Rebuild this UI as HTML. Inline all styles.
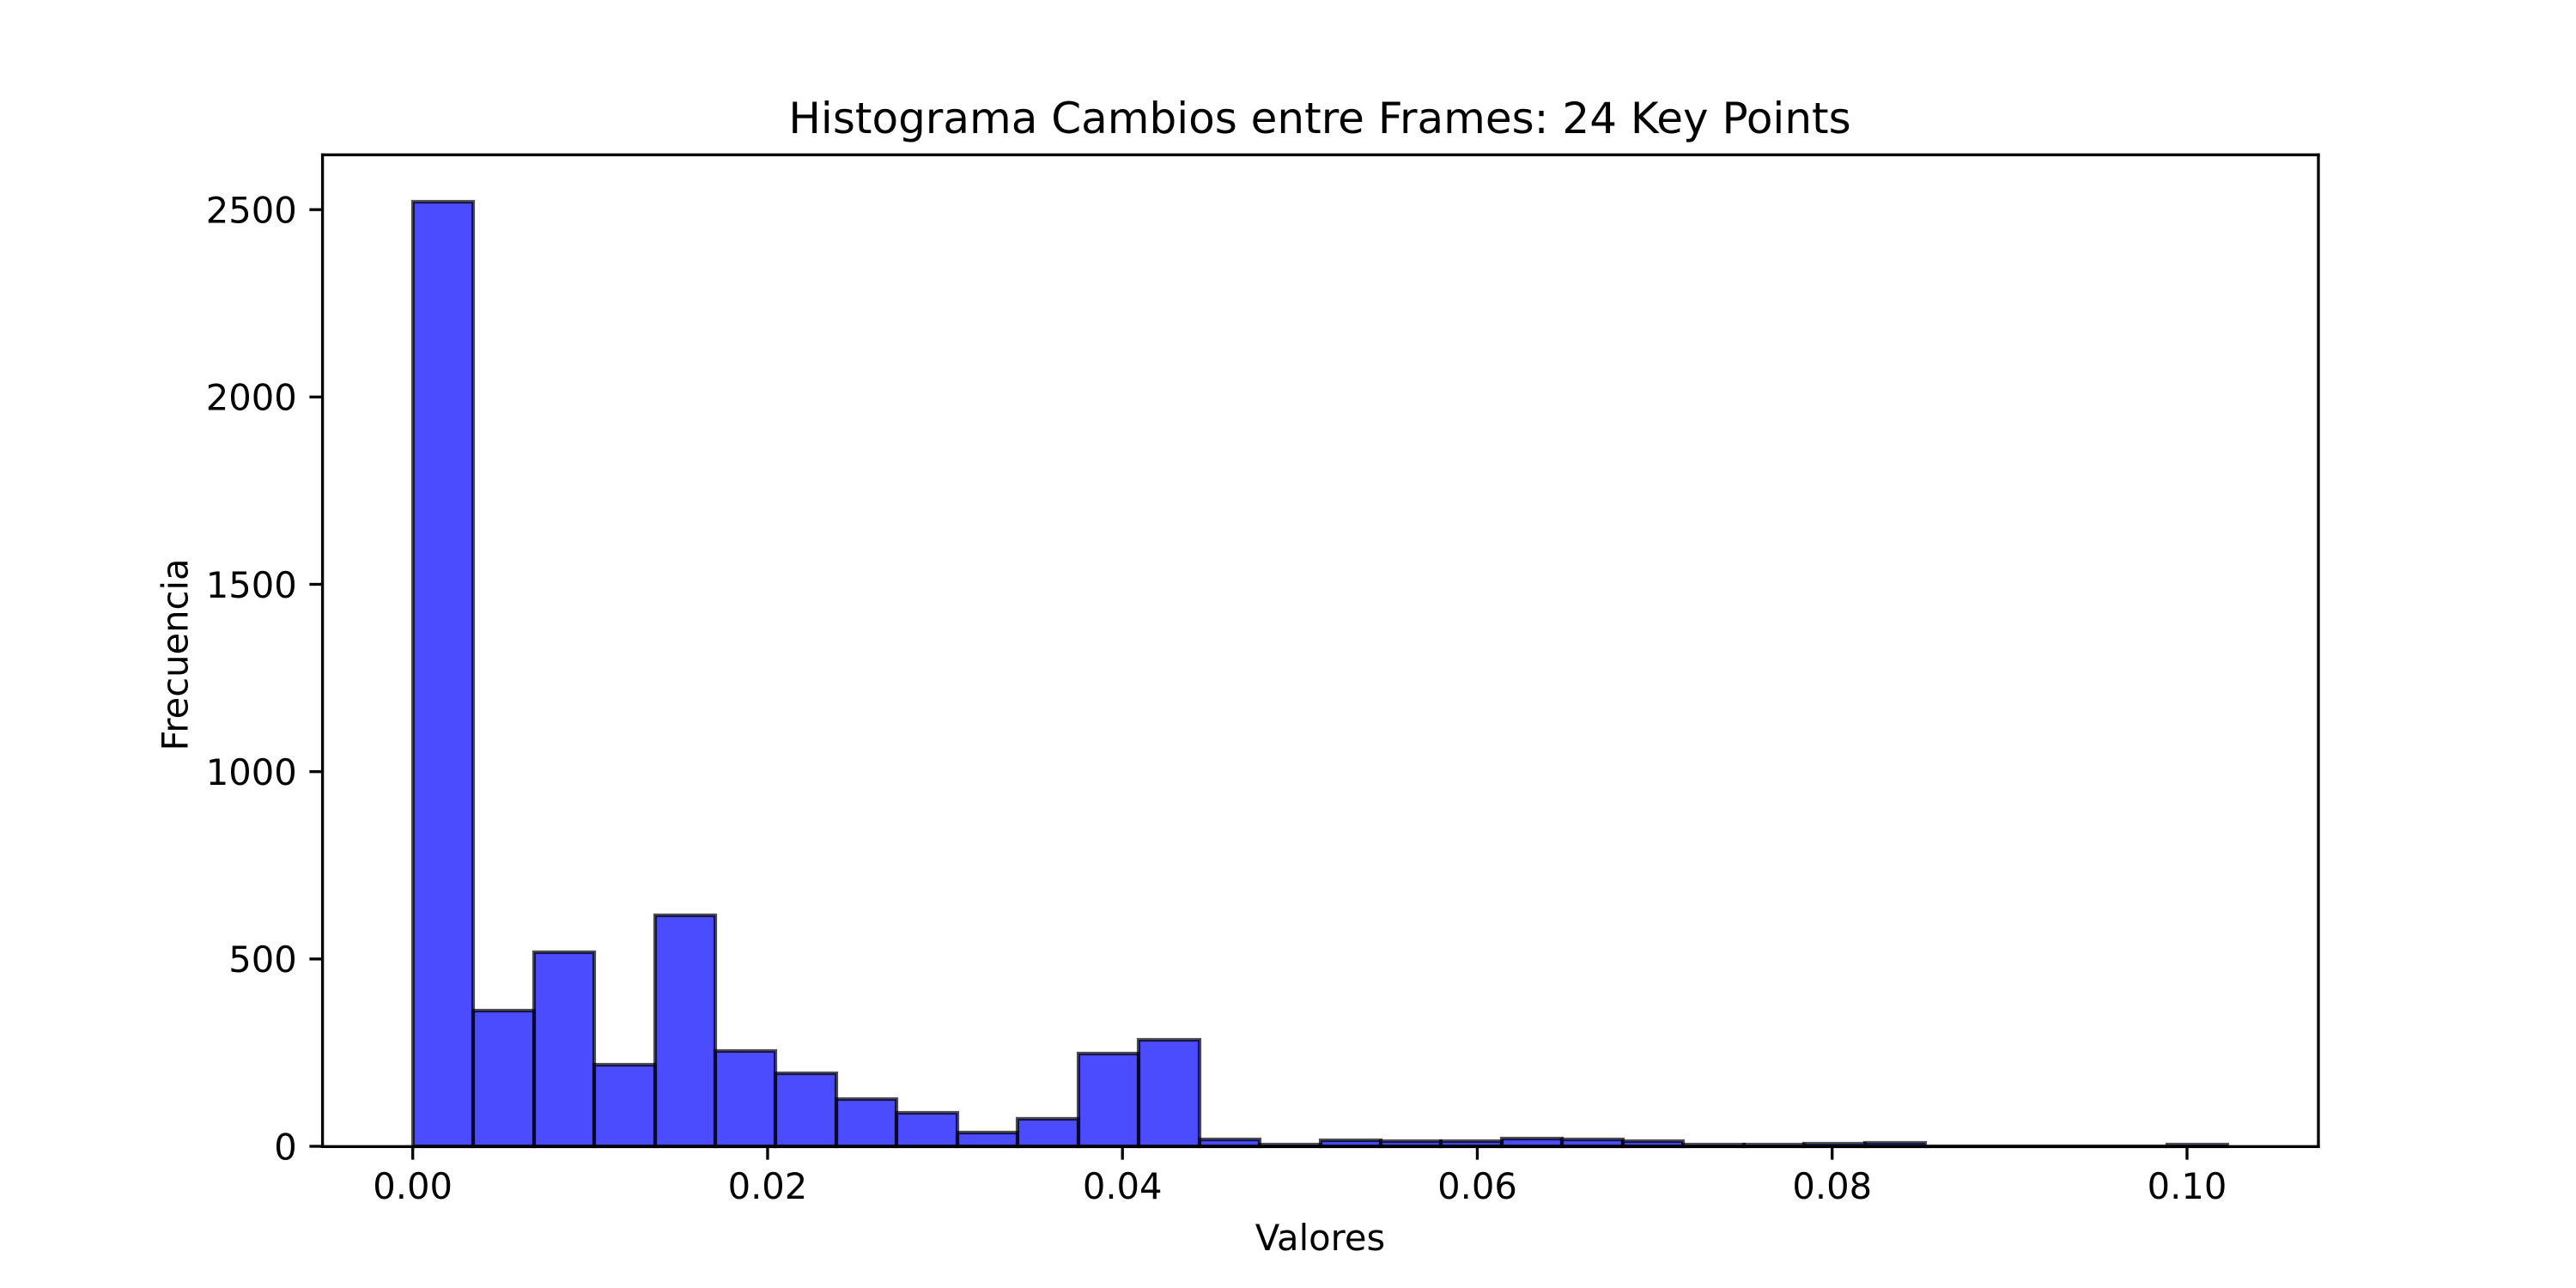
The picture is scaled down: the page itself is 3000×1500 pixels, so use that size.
<!DOCTYPE html>
<html lang="es">
<head>
<meta charset="utf-8">
<title>Histograma Cambios entre Frames: 24 Key Points</title>
<style>
html,body{margin:0;padding:0;background:#fff;}
svg{display:block;}
text{font-family:"DejaVu Sans","Liberation Sans",sans-serif;fill:#000;}
</style>
</head>
<body>
<svg id="chart" xmlns="http://www.w3.org/2000/svg" width="3000" height="1500" viewBox="0 0 3000 1500">
  <rect x="0" y="0" width="3000" height="1500" fill="#ffffff"/>
  <rect x="375" y="180" width="2325" height="1155" fill="#ffffff"/>
  <g id="bars"></g>
  <g id="x-ticks"></g>
  <g id="y-ticks"></g>
  <g stroke="#000" stroke-width="3.33" fill="none" stroke-linecap="square">
    <line x1="375.6" y1="180.3" x2="375.6" y2="1335.3"/>
    <line x1="2700" y1="180.3" x2="2700" y2="1335.3"/>
    <line x1="375.6" y1="180.3" x2="2700" y2="180.3"/>
    <line x1="375.6" y1="1335.3" x2="2700" y2="1335.3"/>
  </g>
  <text x="1537" y="155" text-anchor="middle" font-size="50">Histograma Cambios entre Frames: 24 Key Points</text>
  <text x="1537.5" y="1456" text-anchor="middle" font-size="41.67">Valores</text>
  <text x="0" y="0" transform="translate(218.3 762.5) rotate(-90)" text-anchor="middle" font-size="41.67">Frecuencia</text>
</svg>
<script>
const binCounts = [2521, 361, 518, 217, 616, 254, 194, 127, 89, 37, 74, 248, 285, 18, 4, 15, 13, 13, 20, 18, 14, 4, 4, 7, 10, 0, 0, 0, 0, 4];
const dataMin = 0;
const dataMax = 0.10229;
const xTickValues = [0, 0.02, 0.04, 0.06, 0.08, 0.10];
const xTickLabels = ["0.00", "0.02", "0.04", "0.06", "0.08", "0.10"];
const yTickValues = [0, 500, 1000, 1500, 2000, 2500];
const yTickLabels = ["0", "500", "1000", "1500", "2000", "2500"];

const NS = "http://www.w3.org/2000/svg";
const plotLeft = 375, plotRight = 2700, plotTop = 180, plotBottom = 1335;
const xPad = (dataMax - dataMin) * 0.05;
const xLo = dataMin - xPad, xHi = dataMax + xPad;
const yHi = Math.max.apply(null, binCounts) * 1.05;

function xScale(v) { return plotLeft + (v - xLo) / (xHi - xLo) * (plotRight - plotLeft); }
function yScale(v) { return plotBottom - v / yHi * (plotBottom - plotTop); }

function make(tag, attrs) {
  const el = document.createElementNS(NS, tag);
  for (const k in attrs) el.setAttribute(k, attrs[k]);
  return el;
}

const barsGroup = document.getElementById("bars");
const binWidth = (dataMax - dataMin) / binCounts.length;
binCounts.forEach(function (count, i) {
  const x0 = Math.round(xScale(dataMin + i * binWidth));
  const x1 = Math.round(xScale(dataMin + (i + 1) * binWidth));
  const yTop = Math.round(yScale(count));
  const yBase = Math.round(yScale(0));
  const bar = make("path", {
    d: "M" + x0 + " " + yBase + "L" + x0 + " " + yTop + "L" + x1 + " " + yTop + "L" + x1 + " " + yBase + "Z",
    fill: "#0000ff", "fill-opacity": 0.7,
    stroke: "#000000", "stroke-opacity": 0.7, "stroke-width": 4.17
  });
  
  
  barsGroup.appendChild(bar);
});

const xTicksGroup = document.getElementById("x-ticks");
xTickValues.forEach(function (v, i) {
  const x = xScale(v);
  const tick = make("line", { x1: x, y1: plotBottom, x2: x, y2: plotBottom + 15.6, stroke: "#000", "stroke-width": 3.33 });
  
  
  xTicksGroup.appendChild(tick);
  const label = make("text", { x: x, y: 1396, "text-anchor": "middle", "font-size": 41.67 });
  label.textContent = xTickLabels[i];
  
  
  xTicksGroup.appendChild(label);
});

const yTicksGroup = document.getElementById("y-ticks");
yTickValues.forEach(function (v, i) {
  const y = yScale(v);
  const tick = make("line", { x1: plotLeft - 14.6, y1: y, x2: plotLeft, y2: y, stroke: "#000", "stroke-width": 3.33 });
  
  
  yTicksGroup.appendChild(tick);
  const label = make("text", { x: 345.8, y: y + 15.3, "text-anchor": "end", "font-size": 41.67 });
  label.textContent = yTickLabels[i];
  
  
  yTicksGroup.appendChild(label);
});
</script>
</body>
</html>
